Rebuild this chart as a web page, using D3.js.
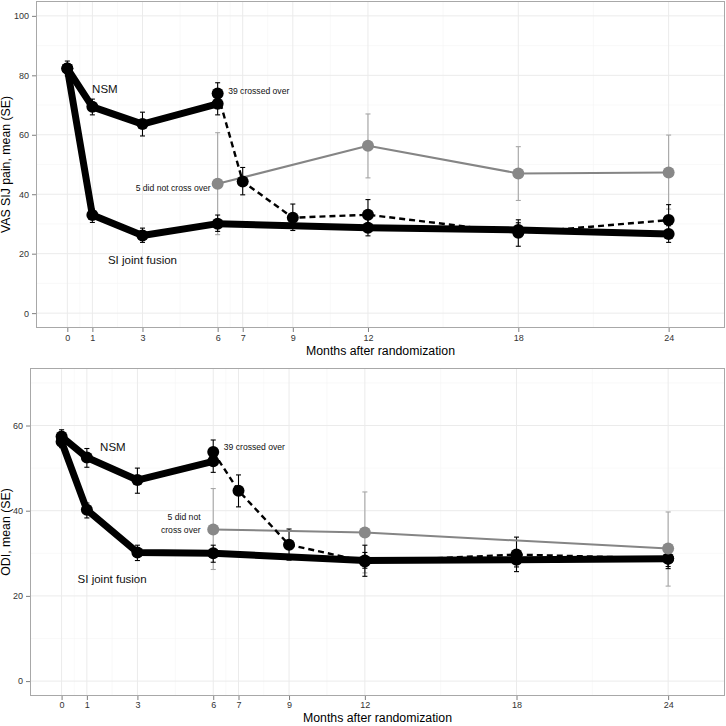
<!DOCTYPE html>
<html>
<head>
<meta charset="utf-8">
<script src="https://cdn.jsdelivr.net/npm/d3@7"></script>
<style>
  html, body { margin: 0; padding: 0; background: #fff; }
  svg { display: block; font-family: "Liberation Sans", Arial, sans-serif; }
</style>
</head>
<body>
<svg id="chart" width="726" height="726"></svg>
<script>
// ---------- data ----------
const monthTicks = [0, 1, 3, 6, 7, 9, 12, 18, 24];
const monthMinor = [0.5, 2, 4.5, 6.5, 8, 10.5, 15, 21];

// VAS SIJ pain panel
const vasTicks = [0, 20, 40, 60, 80, 100];
const vasMinor = [10, 30, 50, 70, 90];
const vasFusionX = [0, 1, 3, 6, 12, 18, 24];
const vasFusionMean = [82.3, 33.0, 26.1, 30.1, 28.7, 28.0, 26.6];
const vasFusionLo = [80.9, 30.5, 23.8, 27.5, 26.0, 25.6, 23.8];
const vasFusionHi = [83.7, 35.0, 28.6, 33.0, 31.5, 30.4, 29.4];
const vasNsmX = [0, 1, 3, 6];
const vasNsmMean = [82.3, 69.4, 63.6, 70.4];
const vasNsmLo = [79.8, 66.7, 59.6, 66.7];
const vasNsmHi = [84.8, 72.0, 67.6, 74.2];
const vasCrossX = [6, 7, 9, 12, 18, 24];
const vasCrossMean = [73.9, 44.3, 32.1, 33.1, 27.0, 31.3];
const vasCrossLo = [70.3, 39.8, 27.8, 28.3, 22.5, 26.2];
const vasCrossHi = [77.5, 49.0, 36.7, 38.2, 31.4, 36.5];
const vasStayX = [6, 12, 18, 24];
const vasStayMean = [43.5, 56.3, 47.0, 47.3];
const vasStayLo = [26.4, 45.5, 37.9, 35.0];
const vasStayHi = [60.7, 67.0, 56.0, 59.9];

// ODI panel
const odiTicks = [0, 20, 40, 60];
const odiMinor = [10, 30, 50, 70];
const odiFusionX = [0, 1, 3, 6, 12, 18, 24];
const odiFusionMean = [56.2, 40.2, 30.2, 30.0, 28.3, 28.5, 28.7];
const odiFusionLo = [54.8, 38.3, 28.3, 27.9, 26.5, 26.8, 26.9];
const odiFusionHi = [57.6, 41.8, 31.9, 31.9, 30.2, 30.2, 30.5];
const odiNsmX = [0, 1, 3, 6];
const odiNsmMean = [57.4, 52.5, 47.2, 51.6];
const odiNsmLo = [55.8, 50.2, 44.1, 49.0];
const odiNsmHi = [59.0, 54.6, 50.0, 54.2];
const odiCrossX = [6, 7, 9, 12, 18, 24];
const odiCrossMean = [53.8, 44.7, 32.0, 28.1, 29.7, 28.8];
const odiCrossLo = [51.0, 40.9, 28.4, 24.6, 25.7, 26.4];
const odiCrossHi = [56.6, 48.4, 35.7, 31.9, 33.8, 31.2];
const odiStayX = [6, 12, 24];
const odiStayMean = [35.6, 34.9, 31.1];
const odiStayLo = [26.2, 25.4, 22.3];
const odiStayHi = [45.2, 44.4, 39.7];

const xTitle = "Months after randomization";

// ---------- helpers ----------
function zipSeries(xs, m, lo, hi) {
  return xs.map((x, i) => ({ x: x, y: m[i], lo: lo[i], hi: hi[i] }));
}

const svg = d3.select("#chart");

function drawPanel(cfg) {
  const g = svg.append("g");
  const x = d3.scaleLinear().domain([-1.25, 26.25]).range([cfg.left, cfg.right]);
  const y = d3.scaleLinear().domain(cfg.yDomain).range([cfg.bottom, cfg.top]);

  g.append("rect").attr("x", cfg.left).attr("y", cfg.top)
    .attr("width", cfg.right - cfg.left).attr("height", cfg.bottom - cfg.top)
    .attr("fill", "#fff");

  // minor grid
  g.selectAll(".minx").data(monthMinor).enter().append("line")
    .attr("x1", d => x(d)).attr("x2", d => x(d))
    .attr("y1", cfg.top).attr("y2", cfg.bottom)
    .attr("stroke", "#f5f5f5").attr("stroke-width", 0.6);
  g.selectAll(".miny").data(cfg.yMinor).enter().append("line")
    .attr("y1", d => y(d)).attr("y2", d => y(d))
    .attr("x1", cfg.left).attr("x2", cfg.right)
    .attr("stroke", "#f5f5f5").attr("stroke-width", 0.6);
  // major grid
  g.selectAll(".majx").data(monthTicks).enter().append("line")
    .attr("x1", d => x(d)).attr("x2", d => x(d))
    .attr("y1", cfg.top).attr("y2", cfg.bottom)
    .attr("stroke", "#ebebeb").attr("stroke-width", 1);
  g.selectAll(".majy").data(cfg.yTicks).enter().append("line")
    .attr("y1", d => y(d)).attr("y2", d => y(d))
    .attr("x1", cfg.left).attr("x2", cfg.right)
    .attr("stroke", "#ebebeb").attr("stroke-width", 1);

  // axes
  const xAxis = d3.axisBottom(x).tickValues(monthTicks).tickSize(4).tickPadding(cfg.xPad).tickFormat(d3.format("d"));
  const yAxis = d3.axisLeft(y).tickValues(cfg.yTicks).tickSize(4).tickPadding(3).tickFormat(d3.format("d"));
  const gx = g.append("g").attr("transform", `translate(0,${cfg.bottom})`).call(xAxis);
  const gy = g.append("g").attr("transform", `translate(${cfg.left},0)`).call(yAxis);
  [gx, gy].forEach(a => {
    a.select(".domain").remove();
    a.selectAll(".tick line").attr("stroke", "#7f7f7f");
    a.selectAll(".tick text").attr("fill", "#333").style("font-size", "9px")
      .style("font-family", "'Liberation Sans', Arial, sans-serif");
  });

  // axis titles
  g.append("text").attr("x", (cfg.left + cfg.right) / 2).attr("y", cfg.bottom + cfg.xTitleGap)
    .attr("text-anchor", "middle").style("font-size", "12.3px").attr("fill", "#000")
    .text(xTitle);
  g.append("text")
    .attr("transform", `translate(10,${(cfg.top + cfg.bottom) / 2}) rotate(-90)`)
    .attr("text-anchor", "middle").style("font-size", "12.3px").attr("fill", "#000")
    .text(cfg.yTitle);

  const capW = 0.1;
  function errorBars(data, color) {
    const eb = g.append("g");
    data.forEach(d => {
      eb.append("line").attr("x1", x(d.x)).attr("x2", x(d.x))
        .attr("y1", y(d.lo)).attr("y2", y(d.hi)).attr("stroke", color).attr("stroke-width", 1.1);
      [d.lo, d.hi].forEach(v => {
        eb.append("line").attr("x1", x(d.x - capW)).attr("x2", x(d.x + capW))
          .attr("y1", y(v)).attr("y2", y(v)).attr("stroke", color).attr("stroke-width", 1.1);
      });
    });
  }
  const line = d3.line().x(d => x(d.x)).y(d => y(d.y));
  function drawLine(data, color, width, dash) {
    g.append("path").datum(data).attr("d", line).attr("fill", "none")
      .attr("stroke", color).attr("stroke-width", width)
      .attr("stroke-dasharray", dash || null).attr("stroke-linejoin", "round");
  }
  function drawPoints(data, color) {
    g.append("g").selectAll("circle").data(data).enter().append("circle")
      .attr("cx", d => x(d.x)).attr("cy", d => y(d.y)).attr("r", 6).attr("fill", color);
  }

  const fusion = cfg.fusion, nsm = cfg.nsm, cross = cfg.cross, stay = cfg.stay;

  errorBars(stay, "#a6a6a6");
  errorBars(fusion, "#000");
  errorBars(nsm, "#000");
  errorBars(cross, "#000");

  drawLine(stay, "#858585", 2);
  drawLine(cross, "#000", 2.4, "6,4");
  drawLine(fusion, "#000", 7);
  drawLine(nsm, "#000", 7);

  drawPoints(fusion, "#000");
  drawPoints(nsm, "#000");
  drawPoints(cross, "#000");
  drawPoints(stay, "#888");

  cfg.labels.forEach(l => {
    const t = g.append("text").attr("x", x(l.x)).attr("y", y(l.y))
      .attr("text-anchor", l.anchor).attr("dominant-baseline", "central")
      .style("font-size", l.size + "px").attr("fill", "#111");
    if (Array.isArray(l.text)) {
      l.text.forEach((s, i) => {
        t.append("tspan").attr("x", x(l.x)).attr("dy", i === 0 ? 0 : l.lineGap).text(s);
      });
    } else t.text(l.text);
  });

  g.append("rect").attr("x", cfg.left + 0.5).attr("y", cfg.top + 0.5)
    .attr("width", cfg.right - cfg.left - 1).attr("height", cfg.bottom - cfg.top - 1)
    .attr("fill", "none").attr("stroke", "#a8a8a8").attr("stroke-width", 1);
}

drawPanel({
  left: 36, right: 725, top: 1, bottom: 328, xTitleGap: 27, xPad: 3,
  yDomain: [-5, 105], yTicks: vasTicks, yMinor: vasMinor,
  yTitle: "VAS SIJ pain, mean (SE)",
  fusion: zipSeries(vasFusionX, vasFusionMean, vasFusionLo, vasFusionHi),
  nsm: zipSeries(vasNsmX, vasNsmMean, vasNsmLo, vasNsmHi),
  cross: zipSeries(vasCrossX, vasCrossMean, vasCrossLo, vasCrossHi),
  stay: zipSeries(vasStayX, vasStayMean, vasStayLo, vasStayHi),
  labels: [
    { text: "NSM", x: 1.5, y: 75.3, anchor: "middle", size: 11.5 },
    { text: "SI joint fusion", x: 3.0, y: 18.0, anchor: "middle", size: 11.5 },
    { text: "39 crossed over", x: 6.42, y: 74.6, anchor: "start", size: 8.6 },
    { text: "5 did not cross over", x: 5.72, y: 42.0, anchor: "end", size: 8.6 }
  ]
});

drawPanel({
  left: 30, right: 725, top: 368, bottom: 696, xTitleGap: 26, xPad: 2,
  yDomain: [-3.5, 73.5], yTicks: odiTicks, yMinor: odiMinor,
  yTitle: "ODI, mean (SE)",
  fusion: zipSeries(odiFusionX, odiFusionMean, odiFusionLo, odiFusionHi),
  nsm: zipSeries(odiNsmX, odiNsmMean, odiNsmLo, odiNsmHi),
  cross: zipSeries(odiCrossX, odiCrossMean, odiCrossLo, odiCrossHi),
  stay: zipSeries(odiStayX, odiStayMean, odiStayLo, odiStayHi),
  labels: [
    { text: "NSM", x: 2.03, y: 54.9, anchor: "middle", size: 11.5 },
    { text: "SI joint fusion", x: 2.0, y: 23.9, anchor: "middle", size: 11.5 },
    { text: "39 crossed over", x: 6.42, y: 54.9, anchor: "start", size: 8.6 },
    { text: ["5 did not", "cross over"], x: 5.5, y: 38.5, anchor: "end", size: 8.6, lineGap: 13.3 }
  ]
});
</script>
</body>
</html>
